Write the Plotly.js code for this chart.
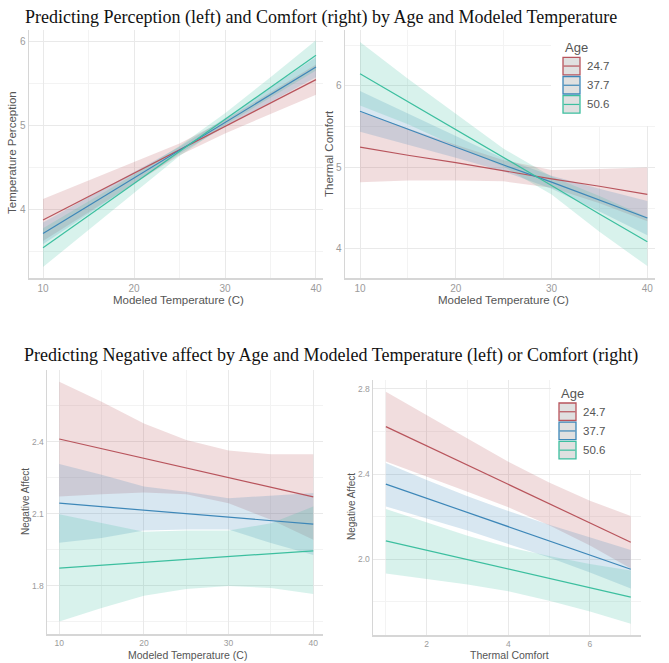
<!DOCTYPE html>
<html>
<head>
<meta charset="utf-8">
<script src="https://cdn.plot.ly/plotly-3.0.1.min.js"></script>
<style>
  html, body { margin:0; padding:0; background:#fff; }
  #chart { width:669px; height:663px; }
</style>
</head>
<body>
<div id="chart"></div>
<script>
// x grids
const tempX = [10, 15, 20, 25, 30, 35, 40];
const comfortX = [1, 2, 3, 4, 5, 6, 7];
const ageGroups = ['24.7', '37.7', '50.6'];
const ageColors = ['#b8545c', '#3d87b8', '#3cbf9f'];

// top left: temperature perception ~ modeled temperature (rows = age groups)
const percFit = [[3.87,4.15,4.43,4.71,4.98,5.26,5.54],[3.71,4.04,4.37,4.70,5.03,5.36,5.69],[3.54,3.92,4.30,4.69,5.07,5.45,5.83]];
const percLo  = [[3.62,3.96,4.30,4.64,4.90,5.13,5.36],[3.58,3.94,4.30,4.66,4.98,5.28,5.57],[3.31,3.75,4.19,4.63,5.00,5.33,5.65]];
const percHi  = [[4.12,4.34,4.56,4.78,5.06,5.39,5.72],[3.84,4.14,4.44,4.74,5.08,5.44,5.81],[3.77,4.09,4.41,4.75,5.14,5.57,6.01]];

// top right: thermal comfort ~ modeled temperature
const comfFit = [[5.25,5.15,5.06,4.96,4.86,4.77,4.67],[5.69,5.47,5.25,5.03,4.82,4.60,4.38],[6.15,5.81,5.46,5.12,4.78,4.43,4.09]];
const comfLo  = [[4.82,4.84,4.84,4.83,4.75,4.56,4.34],[5.44,5.28,5.12,4.95,4.74,4.46,4.17],[5.76,5.53,5.26,5.01,4.67,4.21,3.79]];
const comfHi  = [[5.68,5.48,5.28,5.09,4.97,4.98,5.00],[5.94,5.66,5.38,5.11,4.90,4.74,4.59],[6.54,6.09,5.66,5.23,4.89,4.65,4.39]];

// bottom left: negative affect ~ modeled temperature
const negTempFit = [[2.411,2.371,2.330,2.290,2.250,2.210,2.170],[2.144,2.130,2.115,2.101,2.086,2.072,2.057],[1.874,1.886,1.898,1.910,1.922,1.934,1.946]];
const negTempLo  = [[2.172,2.181,2.188,2.181,2.144,2.075,1.992],[1.980,1.999,2.030,2.035,2.035,1.978,1.929],[1.652,1.708,1.759,1.787,1.800,1.791,1.766]];
const negTempHi  = [[2.649,2.566,2.476,2.407,2.363,2.348,2.348],[2.307,2.262,2.213,2.192,2.165,2.174,2.186],[2.098,2.061,2.025,2.030,2.030,2.061,2.130]];

// bottom right: negative affect ~ thermal comfort
const negComfFit = [[2.623,2.532,2.442,2.351,2.260,2.170,2.080],[2.353,2.286,2.220,2.153,2.086,2.020,1.953],[2.086,2.042,1.998,1.954,1.910,1.866,1.822]];
const negComfLo  = [[2.459,2.389,2.317,2.244,2.160,2.065,1.957],[2.248,2.191,2.135,2.073,2.008,1.938,1.863],[1.933,1.907,1.881,1.849,1.805,1.754,1.697]];
const negComfHi  = [[2.787,2.675,2.567,2.458,2.360,2.275,2.203],[2.452,2.372,2.296,2.226,2.162,2.102,2.043],[2.236,2.172,2.110,2.056,2.015,1.978,1.947]];

const W = 669, H = 663;
const fx = px => px / W;
const fy = py => 1 - py / H;

const rgba = (hex, a) => {
  const n = parseInt(hex.slice(1), 16);
  return `rgba(${n >> 16},${(n >> 8) & 255},${n & 255},${a})`;
};

const panel = (x, fit, lo, hi, xa, ya) => {
  const ribbons = ageGroups.map((g, i) => ({
    x: [...x, ...[...x].reverse()],
    y: [...hi[i], ...[...lo[i]].reverse()],
    xaxis: xa, yaxis: ya,
    type: 'scatter', mode: 'lines', fill: 'toself',
    fillcolor: rgba(ageColors[i], 0.2),
    line: {width: 0}, hoverinfo: 'skip', showlegend: false
  }));
  const lines = ageGroups.map((g, i) => ({
    x, y: fit[i], xaxis: xa, yaxis: ya,
    type: 'scatter', mode: 'lines', name: g,
    line: {color: ageColors[i], width: 1.2}, showlegend: false
  }));
  return [...ribbons, ...lines];
};

const data = [
  ...panel(tempX, percFit, percLo, percHi, 'x', 'y'),
  ...panel(tempX, comfFit, comfLo, comfHi, 'x2', 'y2'),
  ...panel(tempX, negTempFit, negTempLo, negTempHi, 'x3', 'y3'),
  ...panel(comfortX, negComfFit, negComfLo, negComfHi, 'x4', 'y4')
];

const tickFont = size => ({family: 'Liberation Sans, Arial, sans-serif', size, color: '#9b9b9b'});
const axis = (domain, range, dtick, tick0, minorDtick, anchor, fsize, fmt) => ({
  domain, range, dtick, tick0, anchor,
  tickformat: fmt || '',
  showline: true, linecolor: '#d6d6d6', linewidth: 1.5,
  showgrid: true, gridcolor: '#e9e9e9', gridwidth: 1,
  minor: {dtick: minorDtick, tick0, showgrid: true, gridcolor: '#f3f3f3', gridwidth: 1},
  zeroline: false, ticks: '', tickfont: tickFont(fsize), fixedrange: true
});

const sansTitle = (text, x, y, size, angle) => ({
  text, x: fx(x), y: fy(y), xref: 'paper', yref: 'paper', showarrow: false,
  xanchor: 'center', yanchor: 'middle', textangle: angle || 0,
  font: {family: 'Liberation Sans, Arial, sans-serif', size, color: '#555'}
});
const serifTitle = (text, x, y) => ({
  text, x: fx(x), y: fy(y), xref: 'paper', yref: 'paper', showarrow: false,
  xanchor: 'center', yanchor: 'middle',
  font: {family: 'Liberation Serif, Times New Roman, serif', size: 18, color: '#111'}
});

// legend drawn by hand so the keys look like ggplot's boxed keys
const shapes = [];
const legendNotes = [];
const drawLegend = (left, top, right, bottom, keyX, titleY, keyTop) => {
  shapes.push({type: 'rect', xref: 'paper', yref: 'paper', layer: 'above',
    x0: fx(left), x1: fx(right), y0: fy(bottom), y1: fy(top),
    fillcolor: '#fff', line: {width: 0}});
  legendNotes.push({text: 'Age', x: fx(keyX), y: fy(titleY), xref: 'paper', yref: 'paper',
    showarrow: false, xanchor: 'left', yanchor: 'middle',
    font: {family: 'Liberation Sans, Arial, sans-serif', size: 13, color: '#555'}});
  ageGroups.forEach((g, i) => {
    const t = keyTop + i * 19.2, b = t + 17.5, m = (t + b) / 2;
    shapes.push({type: 'rect', xref: 'paper', yref: 'paper', layer: 'above',
      x0: fx(keyX), x1: fx(keyX + 17), y0: fy(b), y1: fy(t),
      fillcolor: '#e0e0e0', line: {color: ageColors[i], width: 1.3}});
    shapes.push({type: 'line', xref: 'paper', yref: 'paper', layer: 'above',
      x0: fx(keyX + 0.6), x1: fx(keyX + 16.4), y0: fy(m), y1: fy(m),
      line: {color: ageColors[i], width: 1.2}});
    legendNotes.push({text: g, x: fx(keyX + 22), y: fy(m), xref: 'paper', yref: 'paper',
      showarrow: false, xanchor: 'left', yanchor: 'middle',
      font: {family: 'Liberation Sans, Arial, sans-serif', size: 11.5, color: '#555'}});
  });
};
drawLegend(551, 30, 662, 126, 563, 48, 57.3);
drawLegend(551, 380, 646, 470, 559, 393, 403);

const layout = {
  width: W, height: H,
  margin: {l: 0, r: 0, t: 0, b: 0},
  paper_bgcolor: '#fff', plot_bgcolor: 'rgba(0,0,0,0)',
  showlegend: false,
  xaxis:  axis([fx(29), fx(323)], [8.46, 40.77], 10, 10, 5, 'y', 10),
  yaxis:  axis([fy(278), fy(30)], [3.179, 6.131], 1, 4, 0.5, 'x', 10),
  xaxis2: axis([fx(345), fx(655)], [8.43, 40.8], 10, 10, 5, 'y2', 10),
  yaxis2: axis([fy(278), fy(30)], [3.644, 6.687], 1, 4, 0.5, 'x2', 10),
  xaxis3: axis([fx(47), fx(323)], [8.55, 41.15], 10, 10, 5, 'y3', 8.5),
  yaxis3: axis([fy(634), fy(370)], [1.600, 2.698], 0.3, 1.8, 0.15, 'x3', 8.5, '.1f'),
  xaxis4: axis([fx(373), fx(641)], [0.685, 7.25], 2, 2, 1, 'y4', 8.5),
  yaxis4: axis([fy(635), fy(380)], [1.644, 2.842], 0.4, 2.0, 0.2, 'x4', 8.5, '.1f'),
  shapes,
  annotations: [
    serifTitle('Predicting Perception (left) and Comfort (right) by Age and Modeled Temperature', 321, 17),
    serifTitle('Predicting Negative affect by Age and Modeled Temperature (left) or Comfort (right)', 331, 355),
    sansTitle('Modeled Temperature (C)', 179, 300, 11.5),
    sansTitle('Temperature Perception', 12, 153, 11.5, -90),
    sansTitle('Modeled Temperature (C)', 503, 300, 11.5),
    sansTitle('Thermal Comfort', 329, 154, 11.5, -90),
    sansTitle('Modeled Temperature (C)', 187, 655, 10.5),
    sansTitle('Negative Affect', 25, 502, 10, -90),
    sansTitle('Thermal Comfort', 509, 655, 10.5),
    sansTitle('Negative Affect', 352, 507, 10, -90),
    ...legendNotes
  ]
};

Plotly.newPlot('chart', data, layout, {displayModeBar: false, staticPlot: true});
</script>
</body>
</html>
